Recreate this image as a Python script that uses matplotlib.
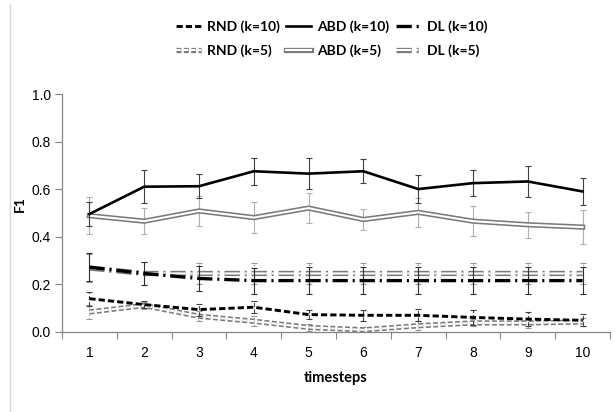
import numpy as np
import matplotlib
matplotlib.use("Agg")
import matplotlib.pyplot as plt
import matplotlib.patheffects as pe
from matplotlib.lines import Line2D
from matplotlib.ticker import FormatStrFormatter

# data
timesteps = [1, 2, 3, 4, 5, 6, 7, 8, 9, 10]

rnd_k10 = [0.139, 0.114, 0.093, 0.103, 0.072, 0.069, 0.069, 0.060, 0.053, 0.048]
rnd_k10_err = [0.030, 0.016, 0.025, 0.025, 0.020, 0.023, 0.025, 0.030, 0.030, 0.025]
abd_k10 = [0.495, 0.61, 0.612, 0.675, 0.665, 0.675, 0.60, 0.625, 0.632, 0.59]
abd_k10_err = [0.05, 0.07, 0.05, 0.056, 0.065, 0.05, 0.06, 0.056, 0.065, 0.057]
dl_k10 = [0.271, 0.245, 0.224, 0.215, 0.215, 0.215, 0.215, 0.215, 0.215, 0.215]
dl_k10_err = [0.058, 0.05, 0.053, 0.055, 0.057, 0.057, 0.057, 0.057, 0.057, 0.057]

rnd_k5 = [0.083, 0.110, 0.065, 0.044, 0.018, 0.008, 0.025, 0.037, 0.037, 0.041]
rnd_k5_err = [0.028, 0.015, 0.020, 0.020, 0.015, 0.010, 0.019, 0.015, 0.020, 0.015]
abd_k5 = [0.488, 0.465, 0.508, 0.48, 0.52, 0.472, 0.502, 0.465, 0.45, 0.44]
abd_k5_err = [0.077, 0.054, 0.062, 0.064, 0.062, 0.046, 0.06, 0.064, 0.054, 0.073]
dl_k5 = [0.268, 0.245, 0.245, 0.245, 0.245, 0.245, 0.245, 0.245, 0.245, 0.245]
dl_k5_err = [0.06, 0.05, 0.045, 0.045, 0.045, 0.045, 0.045, 0.045, 0.045, 0.045]

plt.rcParams['lines.scale_dashes'] = False
plt.rcParams['font.family'] = ['Liberation Sans', 'DejaVu Sans']

fig = plt.figure(figsize=(6.15, 4.12), dpi=100)
ax = fig.add_axes([62 / 615, 1 - 331.7 / 412, 548 / 615, 237.7 / 412])

x = np.arange(len(timesteps))
spine_col = '#868686'
light = '#9a9a9a'
double_fx = [pe.Stroke(linewidth=3.8, foreground='#7a7a7a'), pe.Normal()]


def draw(vals, errs, ls, color, lw, ecolor, els, z, fx=None):
    c = ax.errorbar(x, vals, yerr=errs, color=color, linewidth=lw, linestyle='-',
                    ecolor=ecolor, elinewidth=0.8, capsize=2.2, capthick=0.8, zorder=z)
    line = c.lines[0]
    if isinstance(ls, tuple):
        line.set_dashes(ls)
    else:
        line.set_linestyle(ls)
    if fx is not None:
        line.set_path_effects(fx)
    for bc in c.lines[2]:
        bc.set_linestyle(els)
        bc.set_zorder(z - 1)
    for cap in c.lines[1]:
        cap.set_zorder(z - 1)
    return line


# k=5 series (double lines)
h_rnd5 = draw(rnd_k5, rnd_k5_err, (3.5, 1.8), 'white', 1.5, light, ':', 3, double_fx)
h_abd5 = draw(abd_k5, abd_k5_err, '-', 'white', 1.5, '#b0b0b0', '-', 3, double_fx)
h_dl5 = draw(dl_k5, dl_k5_err, (11, 3.5, 1.5, 3.5), 'white', 1.5, light, ':', 3, double_fx)

# k=10 series
h_rnd10 = draw(rnd_k10, rnd_k10_err, (4.5, 2.2), 'black', 2.1, '#404040', (0, (3, 1.5)), 6)
h_abd10 = draw(abd_k10, abd_k10_err, '-', 'black', 1.9, '#404040', '-', 6)
h_dl10 = draw(dl_k10, dl_k10_err, (11, 3.5, 1.5, 3.5), 'black', 2.4, '#303030', '-', 6)

ax.set_xlim(-0.5, len(timesteps) - 0.5)
ax.set_ylim(0, 1.0)
ax.set_yticks(np.arange(0, 1.01, 0.2))
ax.yaxis.set_major_formatter(FormatStrFormatter('%.1f'))
ax.set_xticks(np.arange(-0.5, len(timesteps), 1.0))
ax.set_xticklabels([])
ax.set_xticks(x, minor=True)
ax.set_xticklabels([str(t) for t in timesteps], minor=True)
ax.tick_params(axis='x', which='minor', length=0, pad=10, labelsize=10)
ax.tick_params(axis='x', which='major', length=5, color=spine_col, direction='out')
ax.tick_params(axis='y', length=5, color=spine_col, direction='out', pad=3, labelsize=10)

for s in ['top', 'right']:
    ax.spines[s].set_visible(False)
for s in ['left', 'bottom']:
    ax.spines[s].set_color(spine_col)
    ax.spines[s].set_linewidth(0.9)

ax.set_ylabel('F1', fontweight='bold', fontsize=10, family=['Lato', 'DejaVu Sans'])
ax.yaxis.set_label_coords(-0.066, 0.535)
ax.set_xlabel('timesteps', fontweight='bold', fontsize=10.5, family=['Lato', 'DejaVu Sans'])
ax.xaxis.set_label_coords(0.5, -0.165)

handles = [h_rnd10, h_rnd5, h_abd10, h_abd5, h_dl10, h_dl5]
labels = ['RND (k=10)', 'RND (k=5)', 'ABD (k=10)', 'ABD (k=5)', 'DL (k=10)', 'DL (k=5)']
fig.legend(handles, labels, loc='upper center', bbox_to_anchor=(0.539, 0.98), ncol=3,
           frameon=False, handlelength=1.8, handletextpad=0.4, columnspacing=0.5,
           labelspacing=0.8, prop={'family': ['Lato', 'DejaVu Sans'], 'weight': 'bold', 'size': 10})

fig.add_artist(Line2D([9.5 / 615, 9.5 / 615], [0, 1 - 4 / 412], transform=fig.transFigure,
                      color='#d9d9d9', linewidth=1.0))

fig.savefig('out.png', dpi=100)
